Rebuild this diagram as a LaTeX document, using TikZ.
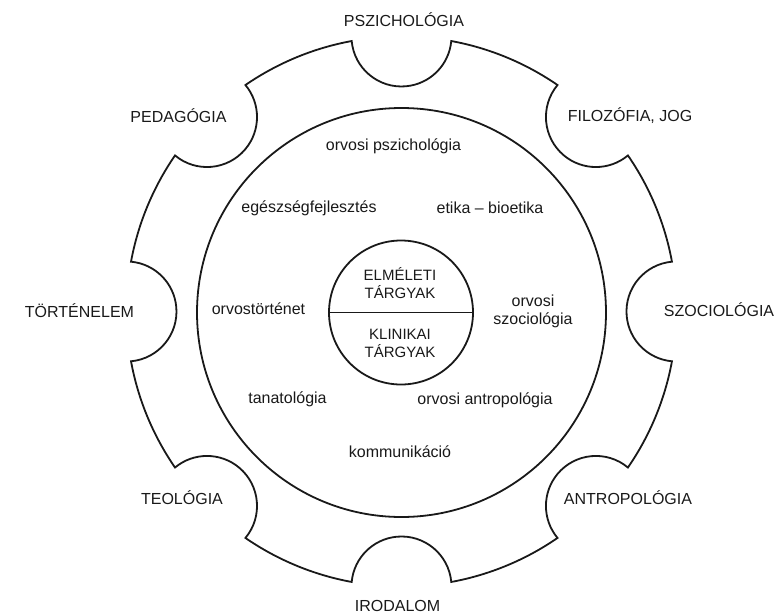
\documentclass[tikz,border=0pt]{standalone}
\usepackage{fontspec}
\setmainfont{Liberation Sans}
\begin{document}
\begin{tikzpicture}[x=1pt,y=-1pt,
  lbl/.style={anchor=base,font=\fontsize{16}{18}\selectfont,text=black!90,inner sep=0pt},
  ctr/.style={anchor=base,font=\fontsize{15}{18}\selectfont,text=black!90,align=center,inner sep=0pt},
  ring/.style={draw=black!90,line width=1.8pt}]
\useasboundingbox (0,0) rectangle (779,613);
\coordinate (O) at (401.5,311.5);
% gear-shaped outer ring
\draw[ring] (O) ++(10.43:275)
  \foreach \a in {0,45,...,315}{
    arc[start angle=\a+10.43,end angle=\a+34.57,radius=275]
    arc[start angle=\a+45+264.79,end angle=\a+45+95.21,radius=50]
  } -- cycle;
% inner circle
\node[ring,circle,minimum size=409pt,inner sep=0pt] (inner) at (401.5,312.5) {};
% core circle
\node[ring,circle,minimum size=144pt,inner sep=0pt] (core) at (401,312.5) {};
\draw[ring] (core.west) -- (core.east);
\node[ctr] (theo) at (400,298) {ELMÉLETI\\TÁRGYAK};
\node[ctr] (clin) at (400,357) {KLINIKAI\\TÁRGYAK};
% outer labels
\node[lbl] (psz) at (404,26) {PSZICHOLÓGIA};
\node[lbl] (ped) at (178.5,122.5) {PEDAGÓGIA};
\node[lbl] (fil) at (630,121.5) {FILOZÓFIA, JOG};
\node[lbl] (tor) at (79.5,317.5) {TÖRTÉNELEM};
\node[lbl] (szo) at (719,316.5) {SZOCIOLÓGIA};
\node[lbl] (teo) at (182,504.5) {TEOLÓGIA};
\node[lbl] (ant) at (628,504.5) {ANTROPOLÓGIA};
\node[lbl] (iro) at (397.5,611) {IRODALOM};
% inner labels
\node[lbl] (opsz) at (393.5,150) {orvosi pszichológia};
\node[lbl] (egf) at (309,212) {egészségfejlesztés};
\node[lbl] (etb) at (490,213) {etika – bioetika};
\node[lbl] (ort) at (258.5,314) {orvostörténet};
\node[lbl,align=center] (osz) at (533,324) {orvosi\\szociológia};
\node[lbl] (tan) at (287.5,403) {tanatológia};
\node[lbl] (oan) at (485,404) {orvosi antropológia};
\node[lbl] (kom) at (400,457) {kommunikáció};
\end{tikzpicture}
\end{document}
